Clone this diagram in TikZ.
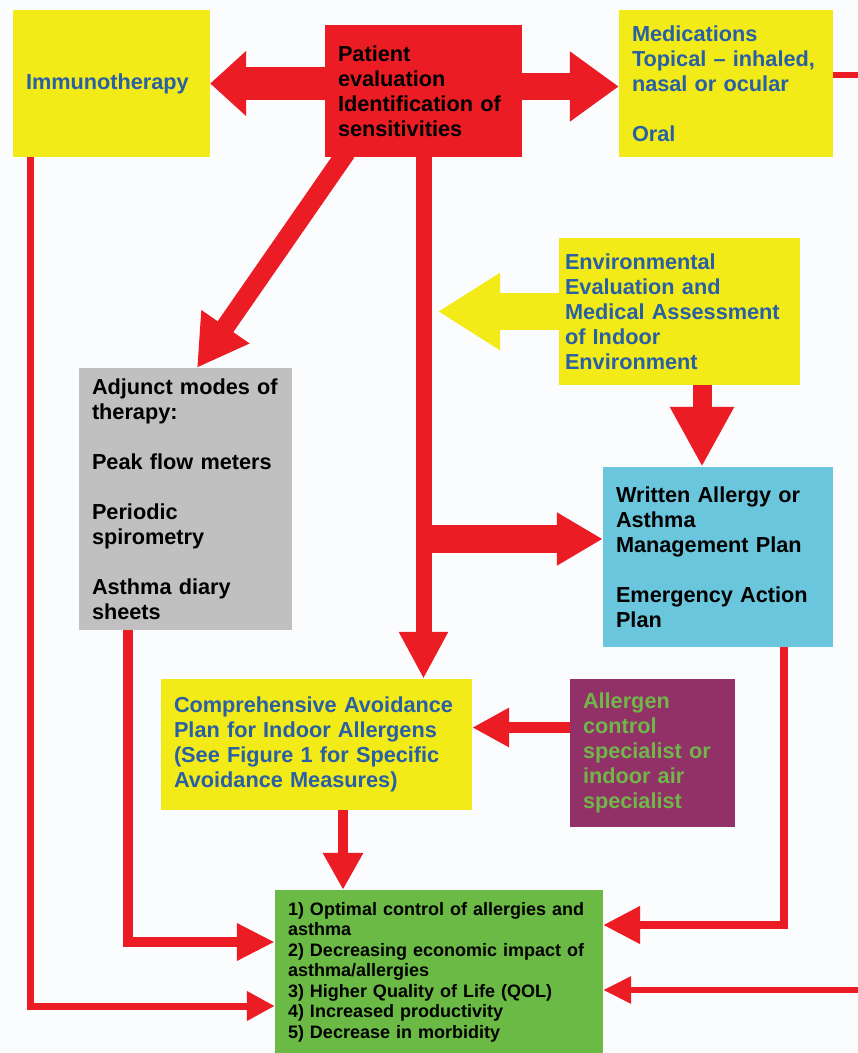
\documentclass[tikz,border=0pt]{standalone}
\usepackage{fontspec}
\setmainfont{Liberation Sans}
\usetikzlibrary{arrows.meta}
\definecolor{flowred}{RGB}{236,28,36}
\definecolor{boxyellow}{RGB}{242,235,24}
\definecolor{txtblue}{RGB}{40,95,165}
\definecolor{boxcyan}{RGB}{106,198,220}
\definecolor{boxgrey}{RGB}{192,192,192}
\definecolor{boxpurple}{RGB}{146,48,104}
\definecolor{txtgreen}{RGB}{112,182,72}
\definecolor{boxgreen}{RGB}{106,186,69}
\definecolor{bgwhite}{RGB}{251,252,254}

\begin{document}
\begin{tikzpicture}[
		x=1pt, y=-1pt,
		blk/.style={
			inner xsep=13pt, inner ysep=0pt, align=left,
			font=\bfseries\fontsize{21.7pt}{25pt}\selectfont
		},
		arr/.style n args={3}{
			draw=flowred, line width=#1, arrows={-{Triangle[length=#2,width=#3]}}
		}
		]
		\useasboundingbox (0,0) rectangle (858,1053);
		\clip (0,0) rectangle (858,1053);
		\fill[bgwhite] (0,0) rectangle (858,1053);
		
		% ---- obere Reihe
		\node[blk, fill=boxyellow, text=txtblue, text width=171pt, minimum height=147pt] (imm) at (111.5,83.5) {Immunotherapy};
		\node[blk, fill=flowred, text=black, text width=171pt, minimum height=132pt] (pat) at (423.5,91) {Patient\\evaluation\\Identification of\\sensitivities};
		\node[blk, fill=boxyellow, text=txtblue, text width=188pt, minimum height=147pt] (med) at (726,83.5) {Medications\\Topical – inhaled,\\nasal or ocular\\[25pt]Oral};
		
		% ---- mittlerer Bereich
		\node[blk, inner xsep=6pt, fill=boxyellow, text=txtblue, text width=229pt, minimum height=147pt] (env) at (679.5,311.5) {Environmental\\Evaluation and\\Medical Assessment\\of Indoor\\Environment};
		\coordinate (envtip) at (438,311.5);
		\node[blk, fill=boxgrey, text=black, text width=187pt, minimum height=262pt] (adj) at (185.5,499) {Adjunct modes of\\therapy:\\[25pt]Peak flow meters\\[25pt]Periodic\\spirometry\\[25pt]Asthma diary\\sheets};
		\node[blk, fill=boxcyan, text=black, text width=204pt, minimum height=180pt] (wrt) at (718,557) {Written Allergy or\\Asthma\\Management Plan\\[25pt]Emergency Action\\Plan};
		\node[blk, fill=boxyellow, text=txtblue, text width=285pt, minimum height=131pt] (avoid) at (316.5,744.5) {Comprehensive Avoidance\\Plan for Indoor Allergens\\(See Figure 1 for Specific\\Avoidance Measures)};
		\node[blk, fill=boxpurple, text=txtgreen, text width=139pt, minimum height=148pt] (spec) at (652.5,753) {Allergen\\control\\specialist or\\indoor air\\specialist};
		
		% ---- Ziel unten
		\node[blk, fill=boxgreen, text=black, text width=302pt, minimum height=164pt,
		font=\bfseries\fontsize{18pt}{20.5pt}\selectfont] (goal) at (439,972) {1) Optimal control of allergies and\\asthma\\2) Decreasing economic impact of\\asthma/allergies\\3) Higher Quality of Life (QOL)\\4) Increased productivity\\5) Decrease in morbidity};
		
		% ---- dicke Pfeile vom Patienten
		\draw[arr={33pt}{36pt}{63pt}] (pat.west |- 0,83.5) -- (imm.east |- 0,83.5);
		\draw[arr={27pt}{49pt}{67pt}] (pat.east |- 0,86.5) -- (med.west |- 0,86.5);
		\draw[arr={19pt}{50pt}{55pt}, shorten <=-6pt] (pat.south -| 343,0) -- (adj.north -| 197,0);
		\draw[arr={16pt}{47pt}{46pt}] (pat.south) -- (avoid.north -| pat.south);
		\draw[arr={28pt}{46pt}{50pt}] (pat.south |- 0,539) -- (wrt.west |- 0,539);
		
		% ---- Umweltbewertung
		\draw[arr={37pt}{62pt}{73pt}, draw=boxyellow] (env.west) -- (envtip);
		\draw[arr={19pt}{60pt}{60pt}] (env.south -| 702,0) -- (wrt.north -| 702,0);
		\draw[arr={11pt}{37pt}{37pt}] (spec.west |- 0,727.5) -- (avoid.east |- 0,727.5);
		
		% ---- Pfeile zum Ziel
		\draw[arr={10pt}{37pt}{38pt}] (avoid.south -| 343,0) -- (goal.north -| 343,0);
		\draw[arr={10pt}{38pt}{35pt}] (adj.south -| 128,0) |- (goal.west |- 0,942);
		\draw[arr={7pt}{28pt}{28pt}] (imm.south -| 30,0) |- (goal.west |- 0,1006);
		\draw[arr={8pt}{37pt}{36pt}] (wrt.south -| 784,0) |- (goal.east |- 0,925);
		\draw[arr={6pt}{28pt}{26pt}] (med.east |- 0,75) -- ++(29,0) |- (goal.east |- 0,990);
	\end{tikzpicture}
\end{document}
